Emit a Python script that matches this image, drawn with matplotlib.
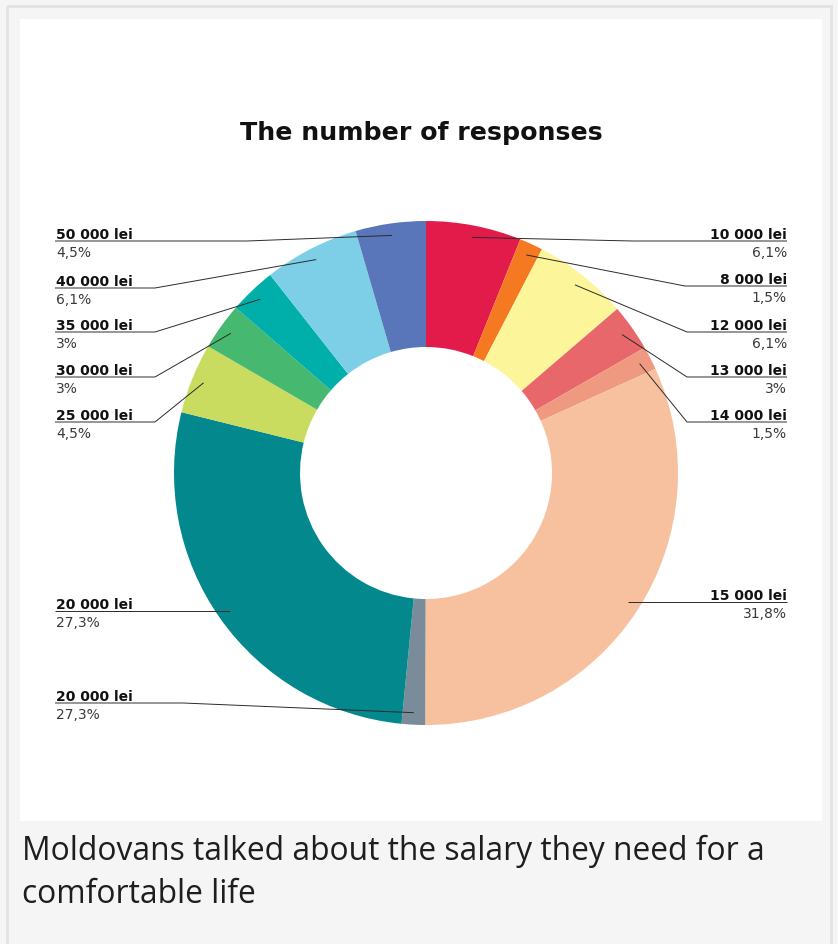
import matplotlib.pyplot as plt
import numpy as np
from matplotlib.patches import Rectangle

# Dados
salaries = ["10 000 lei", "8 000 lei", "12 000 lei", "13 000 lei", "14 000 lei",
            "15 000 lei", "20 000 lei", "20 000 lei", "25 000 lei", "30 000 lei",
            "35 000 lei", "40 000 lei", "50 000 lei"]
shares = [6.1, 1.5, 6.1, 3.0, 1.5, 31.8, 1.5, 27.3, 4.5, 3.0, 3.0, 6.1, 4.5]
pct_labels = ["6,1%", "1,5%", "6,1%", "3%", "1,5%", "31,8%", "27,3%", "27,3%",
              "4,5%", "3%", "3%", "6,1%", "4,5%"]
colors = ["#e31b4b", "#f47920", "#fdf59a", "#e8676b", "#ef9a80", "#f7c19f",
          "#7a8c99", "#03888e", "#c9dc5f", "#46b86f", "#00afaa", "#7ccfe7", "#5876b9"]

title = "The number of responses"
caption_lines = ["Moldovans talked about the salary they need for a", "comfortable life"]

# layout dos rotulos (pixels): lado, y da linha, x do cotovelo
label_side = ["r", "r", "r", "r", "r", "r", "l", "l", "l", "l", "l", "l", "l"]
label_y = [242, 287, 333, 378, 423, 603, 704, 612, 423, 378, 333, 289, 242]
elbow_x = [633, 685, 687, 687, 687, None, 183, None, 155, 155, 155, 155, 247]

W, H = 838, 945
cx, cy, R = 426, 474, 252
x_left, x_right = 55, 787

fig = plt.figure(figsize=(W / 100, H / 100), dpi=100)
fig.patch.set_facecolor("#f5f5f5")
ax = fig.add_axes([0, 0, 1, 1])

ax.add_patch(Rectangle((7, 7), W - 14, H, facecolor="none", edgecolor="#e2e2e2", lw=2))
ax.add_patch(Rectangle((20, 20), 802, 802, facecolor="white", edgecolor="none"))

wedges, _ = ax.pie(shares, colors=colors, startangle=270, counterclock=True,
                   radius=R, center=(cx, cy),
                   wedgeprops=dict(width=R / 2, linewidth=0))

ax.set_xlim(0, W)
ax.set_ylim(H, 0)
ax.set_aspect("equal")
ax.axis("off")

for w, name, pct, side, ly, ex in zip(wedges, salaries, pct_labels, label_side, label_y, elbow_x):
    mid = np.deg2rad((w.theta1 + w.theta2) / 2)
    px, py = cx + 240 * np.cos(mid), cy + 240 * np.sin(mid)
    x_end = x_right if side == "r" else x_left
    if ex:
        xs, ys = [px, ex, x_end], [py, ly, ly]
    else:
        xs, ys = [px, x_end], [ly, ly]
    if side == "r":
        tx, ha = x_right, "right"
    else:
        tx, ha = x_left + 1, "left"
    ax.plot(xs, ys, color="#2b2b2b", lw=0.7, solid_capstyle="butt")
    ax.text(tx, ly - 3, name, ha=ha, va="baseline", fontsize=10,
            fontweight="bold", family="DejaVu Sans", color="#111111")
    ax.text(tx, ly + 15, pct, ha=ha, va="baseline", fontsize=10,
            family="DejaVu Sans", color="#3a3a3a")

ax.text(421, 140, title, ha="center", va="baseline", fontsize=18.2,
        fontweight="bold", family="DejaVu Sans", color="#111111")

for i, line in enumerate(caption_lines):
    ax.text(22, 860 + 43 * i, line, ha="left", va="baseline", fontsize=22.9,
            family="Open Sans", color="#1e1e1e")

fig.savefig("out.png", dpi=100, facecolor=fig.get_facecolor())
